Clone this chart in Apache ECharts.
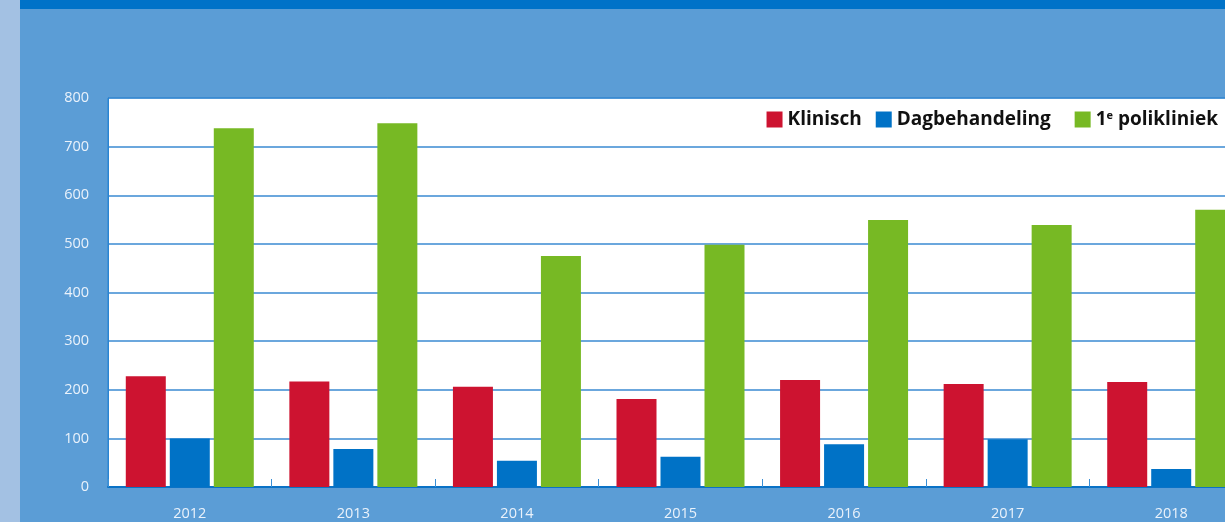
<!DOCTYPE html>
<html>
<head>
<meta charset="utf-8">
<script src="https://cdn.jsdelivr.net/npm/echarts@6/dist/echarts.min.js"></script>
<style>
html,body{margin:0;padding:0;background:#5b9dd6;}
#chart{width:1225px;height:522px;}
</style>
</head>
<body>
<div id="chart"></div>
<script>
const categories = ['2012','2013','2014','2015','2016','2017','2018'];
const klinisch = [228, 217, 206, 181, 220, 212, 216];
const dagbehandeling = [100, 78, 54, 62, 88, 98, 37];
const polikliniek = [738, 748, 475, 498, 549, 539, 570];
const seriesNames = ['Klinisch', 'Dagbehandeling', '1e polikliniek'];
const yTicks = [0, 100, 200, 300, 400, 500, 600, 700, 800];

const chart = echarts.init(document.getElementById('chart'));
const labelFont = '"Open Sans", "DejaVu Sans", sans-serif';
chart.setOption({
  backgroundColor: '#5b9dd6',
  animation: false,
  graphic: [
    { type: 'rect', left: 0, top: 0, shape: { width: 20, height: 522 }, style: { fill: '#a3c1e3' }, z: -1 },
    { type: 'rect', left: 20, top: 0, shape: { width: 1205, height: 9 }, style: { fill: '#0072c8' }, z: -1 }
  ],
  grid: {
    left: 108, top: 98, width: 1145, height: 389,
    outerBoundsMode: 'none', containLabel: false,
    show: true, backgroundColor: '#ffffff', borderColor: '#2a84d2', borderWidth: 1
  },
  legend: {
    right: 7, top: 110, padding: 0,
    itemWidth: 16, itemHeight: 16, itemGap: 14,
    icon: 'rect',
    data: seriesNames,
    formatter: function (name) {
      if (name === '1e polikliniek') return '1{sup|e} polikliniek';
      if (name === 'Dagbehandeling') return name + '  ';
      return name;
    },
    textStyle: {
      fontFamily: labelFont, fontWeight: 'bold', fontSize: 19, color: '#111111',
      rich: {
        sup: { fontFamily: labelFont, fontWeight: 'bold', fontSize: 11, color: '#111111', verticalAlign: 'top', padding: [0, 0, 8, 0] }
      }
    }
  },
  xAxis: {
    type: 'category',
    data: categories,
    axisLine: { lineStyle: { color: '#0a72c6', width: 2 } },
    axisTick: { show: true, inside: true, length: 8, lineStyle: { color: '#3a8fd6', width: 1 } },
    axisLabel: { color: '#eaf2fb', fontSize: 14.5, fontFamily: labelFont, margin: 19 }
  },
  yAxis: {
    type: 'value',
    min: 0, max: 800, interval: 100,
    axisLine: { show: true, lineStyle: { color: '#2a84d2', width: 1 } },
    axisTick: { show: false },
    splitLine: { lineStyle: { color: '#3a8ad2', width: 1.5 } },
    axisLabel: { color: '#eaf2fb', fontSize: 14.5, fontFamily: labelFont, margin: 19,
      formatter: function (v) { return yTicks.indexOf(v) >= 0 ? String(v) : ''; } }
  },
  series: [
    { name: seriesNames[0], type: 'bar', data: klinisch, barWidth: 40, barGap: '10%', itemStyle: { color: '#cd1330' } },
    { name: seriesNames[1], type: 'bar', data: dagbehandeling, barWidth: 40, barGap: '10%', itemStyle: { color: '#0072c6' } },
    { name: seriesNames[2], type: 'bar', data: polikliniek, barWidth: 40, barGap: '10%', itemStyle: { color: '#77b924' } }
  ]
});
</script>
</body>
</html>
